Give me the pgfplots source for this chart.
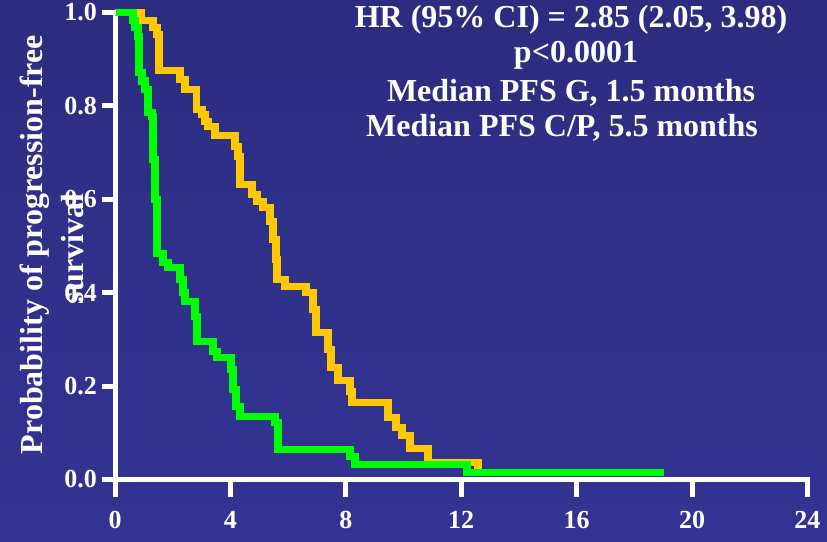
\documentclass[border=0pt]{standalone}
\usepackage{fontspec}
\setmainfont{Liberation Serif}
\usepackage{pgfplots}
\pgfplotsset{compat=1.18}
\definecolor{bgtop}{RGB}{44,45,128}
\definecolor{bgbot}{RGB}{51,52,146}
\definecolor{kmorange}{RGB}{255,200,0}
\definecolor{kmgreen}{RGB}{0,255,0}
\begin{document}
\begin{tikzpicture}
\useasboundingbox (0pt,0pt) rectangle (827pt,541pt);
\shade[top color=bgtop, bottom color=bgbot] (0pt,0pt) rectangle (827pt,541pt);
\begin{axis}[
  at={(115pt,61.5pt)}, anchor=south west,
  scale only axis, width=692.4pt, height=467pt,
  xmin=0, xmax=24, ymin=0, ymax=1,
  xtick={0,4,8,12,16,20,24},
  ytick={0,0.2,0.4,0.6,0.8,1},
  axis x line*=bottom, axis y line*=left,
  axis line style={white, line width=5pt, -, line cap=rect},
  xtick align=outside, ytick align=outside,
  major tick length=12pt,
  tick style={draw=white, line width=5pt},
  /pgf/number format/assume math mode=true,
  tick label style={text=white, font=\bfseries\fontsize{26}{26}\selectfont, inner sep=0pt},
  xticklabel style={yshift=-20pt},
  yticklabel style={xshift=-6pt, /pgf/number format/.cd, fixed, fixed zerofill, precision=1},
  clip=false,
]
\addplot[const plot, kmorange, line width=7.5pt, line join=miter] coordinates {
(0,1.0) (0.90,0.983) (1.31,0.968) (1.45,0.953) (1.53,0.876) (2.25,0.857) (2.43,0.835) (2.83,0.792) (3.01,0.782) (3.12,0.767) (3.22,0.756) (3.47,0.737) (4.16,0.713) (4.26,0.692) (4.33,0.632) (4.75,0.610) (4.92,0.595) (5.13,0.582) (5.37,0.552) (5.48,0.514) (5.58,0.471) (5.62,0.428) (5.89,0.413) (6.62,0.400) (6.86,0.364) (6.97,0.315) (7.38,0.278) (7.49,0.240) (7.73,0.212) (8.15,0.188) (8.21,0.165) (9.46,0.133) (9.74,0.111) (9.95,0.094) (10.23,0.066) (10.85,0.036) (12.58,0.012) (12.58,0.012)
};
\addplot[const plot, kmgreen, line width=7.5pt, line join=miter] coordinates {
(0,1.0) (0.62,0.983) (0.69,0.968) (0.80,0.949) (0.83,0.872) (0.93,0.853) (1.04,0.835) (1.14,0.786) (1.28,0.777) (1.32,0.685) (1.39,0.600) (1.46,0.484) (1.66,0.465) (1.84,0.454) (2.25,0.428) (2.36,0.400) (2.43,0.381) (2.77,0.349) (2.84,0.296) (3.40,0.274) (3.54,0.261) (4.02,0.236) (4.09,0.193) (4.19,0.156) (4.33,0.135) (5.55,0.122) (5.65,0.064) (8.15,0.049) (8.32,0.032) (12.20,0.015) (19.03,0.015)
};
\pgfplotsinvokeforeach{0,4,8,12,16,20,24}{
  \draw[white, line width=5pt] (axis cs:#1,0) -- ++(0pt,-17pt);
}
\node[anchor=base, text=white, inner sep=0pt, font=\bfseries\fontsize{32}{36}\selectfont] at (axis description cs:0.6586,0.968) {HR (95\% CI) = 2.85 (2.05, 3.98)};
\node[anchor=base, text=white, inner sep=0pt, font=\bfseries\fontsize{32}{36}\selectfont] at (axis description cs:0.6658,0.893) {p<0.0001};
\node[anchor=base, text=white, inner sep=0pt, font=\bfseries\fontsize{32}{36}\selectfont] at (axis description cs:0.6586,0.809) {Median PFS G, 1.5 months};
\node[anchor=base, text=white, inner sep=0pt, font=\bfseries\fontsize{32}{36}\selectfont] at (axis description cs:0.6456,0.734) {Median PFS C/P, 5.5 months};
\node[anchor=base, rotate=90, text=white, inner sep=0pt, font=\bfseries\fontsize{32}{36}\selectfont] at (axis description cs:-0.1054,0.503) {Probability of progression-free};
\node[anchor=base, rotate=90, text=white, inner sep=0pt, font=\bfseries\fontsize{32}{36}\selectfont] at (axis description cs:-0.0462,0.4936) {survival};
\end{axis}
\foreach \yy in {61.5,154.9,248.3,341.7,435.1,528.5} {
  \node[anchor=center, inner sep=0pt, text=white] at (109pt,\yy pt) {\rule{14pt}{5pt}};
}
\end{tikzpicture}
\end{document}
